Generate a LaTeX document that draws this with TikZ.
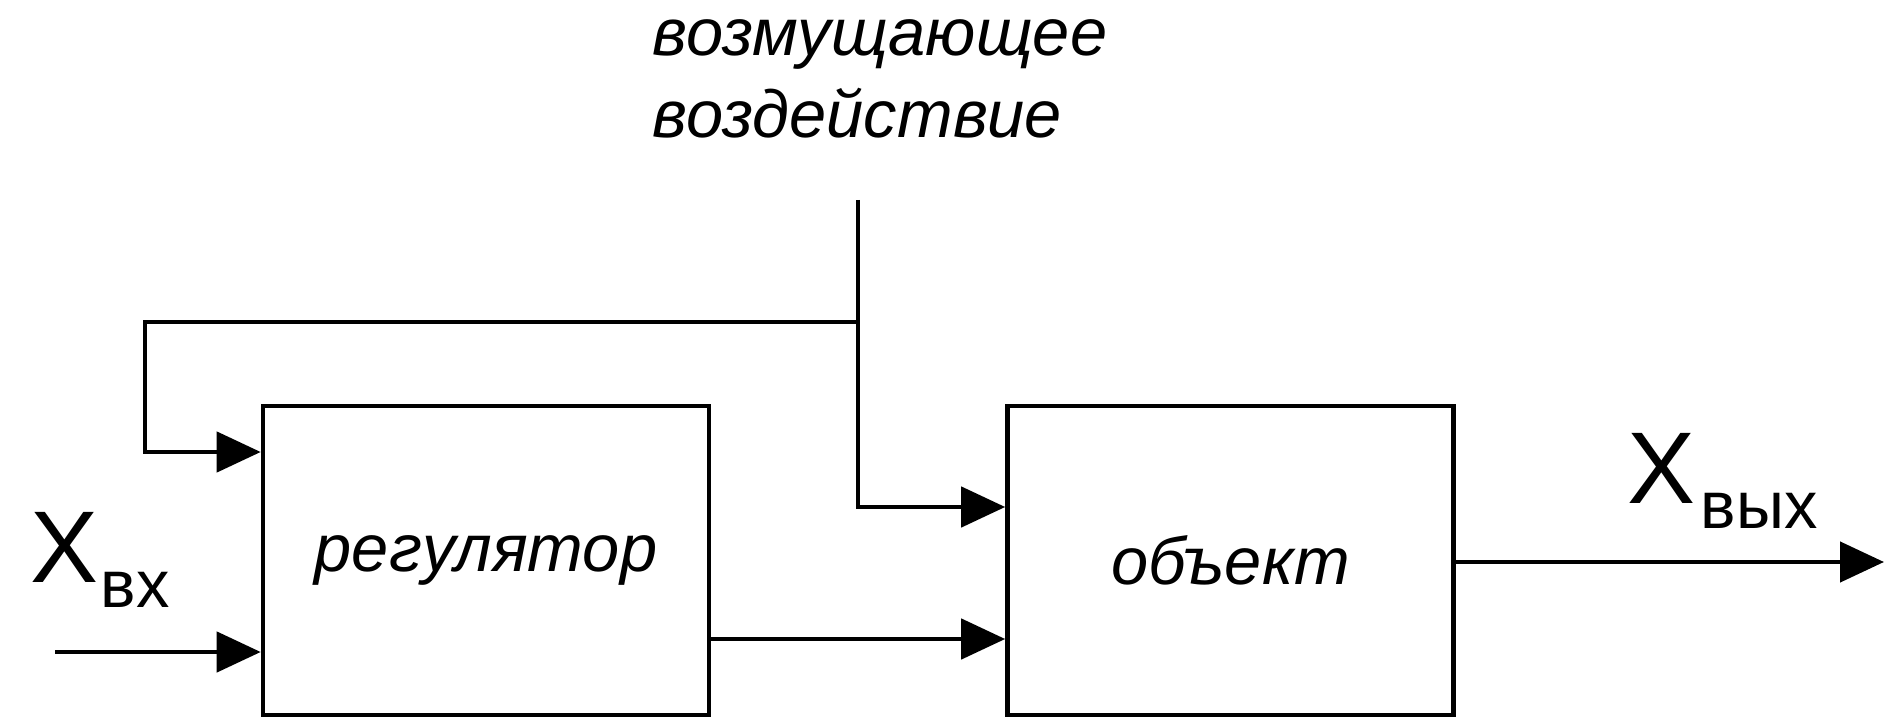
\documentclass[tikz,border=0pt]{standalone}
\usepackage{fontspec}
\setmainfont{Liberation Sans}
\usetikzlibrary{arrows.meta, positioning}
\newcommand{\nadp}{\fontsize{19}{23.5}\selectfont\itshape}
\newcommand{\bukva}{\fontsize{29}{33}\selectfont}
\newcommand{\indeks}{\fontsize{19}{23}\selectfont}

\begin{document}
\begin{tikzpicture}[
		blok/.style={draw, line width=1.3pt, minimum width=4.46cm, minimum height=3.09cm, font=\nadp},
		strelka/.style={line width=1.3pt, -{Triangle[length=4.4mm, width=4mm]}},
		liniya/.style={line width=1.3pt}]
		\useasboundingbox (0,0) rectangle (18.84,7.21);
		% bloki
		\node [blok] (reg) at (4.86,1.605) {регулятор};
		\node [blok] (obj) at (12.305,1.605) {объект};
		% tochki
		\coordinate (vozm) at (8.58,5.21);
		\coordinate (uzel) at (8.58,3.99);
		\coordinate (obr) at (1.45,2.69);
		\coordinate (vx) at (0.55,0.69);
		\coordinate (vyx) at (18.84,1.59);
		\coordinate (sv) at (8.58,2.14);
		% svyazi
		\draw [liniya] (vozm)--(uzel);
		\draw [strelka] (uzel) -| (obr) -- (reg.west |- obr);
		\draw [strelka] (uzel) -- (sv) -- (obj.west |- sv);
		\draw [strelka] (vx) -- (reg.west |- vx);
		\draw [strelka] (reg.east |- 0,0.82) -- (obj.west |- 0,0.82);
		\draw [strelka] (obj.east |- vyx) -- (vyx);
		% nadpisi
		\node [anchor=base west, inner sep=0pt, font=\nadp, align=left] (vzd) at (6.52,5.83) {возмущающее\\воздействие};
		\node [anchor=base west, inner sep=0pt, font=\bukva] (xvx) at (0.30,1.39) {X};
		\node [anchor=base west, inner sep=0pt, font=\indeks] (ivx) at (1.00,1.14) {вх};
		\node [anchor=base west, inner sep=0pt, font=\bukva] (xvyx) at (16.27,2.18) {X};
		\node [anchor=base west, inner sep=0pt, font=\indeks] (ivyx) at (17.00,1.93) {вых};
	\end{tikzpicture}
\end{document}
